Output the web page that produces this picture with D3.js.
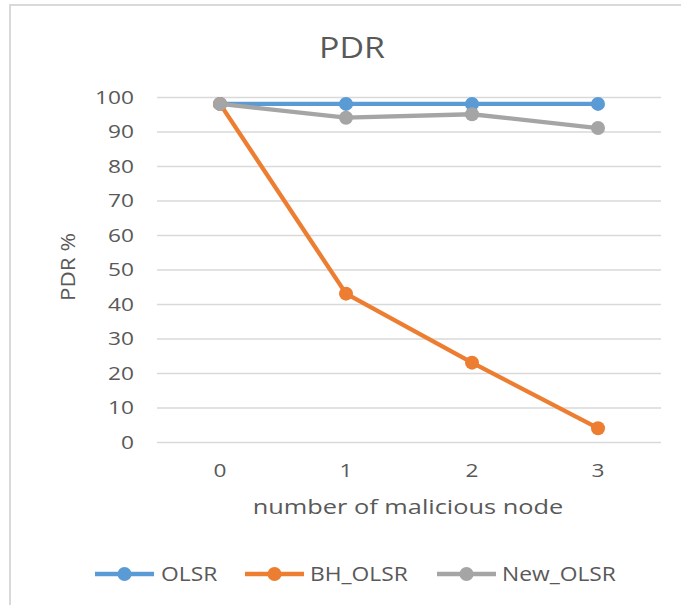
<!DOCTYPE html>
<html>
<head>
<meta charset="utf-8">
<script src="https://cdn.jsdelivr.net/npm/d3@7"></script>
<style>
  html, body { margin: 0; padding: 0; background: #fff; }
  svg { display: block; }
  text { font-family: "Open Sans", "Noto Sans", sans-serif; fill: #595959; }
</style>
</head>
<body>
<svg id="chart" width="681" height="605"></svg>
<script>
const categories = ["0", "1", "2", "3"];
const olsr = [98, 98, 98, 98];
const bhOlsr = [98, 43, 23, 4];
const newOlsr = [98, 94, 95, 91];
const yTicks = [0, 10, 20, 30, 40, 50, 60, 70, 80, 90, 100];
const seriesNames = ["OLSR", "BH_OLSR", "New_OLSR"];
const seriesColors = ["#5B9BD5", "#ED7D31", "#A5A5A5"];

const series = [olsr, bhOlsr, newOlsr].map((values, i) => ({
  name: seriesNames[i], color: seriesColors[i], values
}));

// widen text horizontally around its anchor point
function stretch(sel, sx) {
  sel.each(function () {
    const t = d3.select(this);
    const tx = +t.attr("x") || 0, ty = +t.attr("y") || 0;
    const prev = t.attr("transform") || "";
    t.attr("x", 0).attr("y", 0)
      .attr("transform", `${prev} translate(${tx},${ty}) scale(${sx},1)`);
  });
}

const svg = d3.select("#chart");

// chart frame
svg.append("path")
  .attr("d", "M10,605 L10,5 L681,5")
  .attr("fill", "none")
  .attr("stroke", "#D9D9D9")
  .attr("stroke-width", 2);

const plot = { left: 157, right: 661, top: 97, bottom: 442 };

const x = d3.scaleBand().domain(categories).range([plot.left, plot.right]);
const y = d3.scaleLinear().domain([0, 100]).range([plot.bottom, plot.top]);

// gridlines and value labels
const yAxis = d3.axisLeft(y).tickValues(yTicks)
  .tickSize(-(plot.right - plot.left)).tickPadding(23);
const gy = svg.append("g").attr("transform", `translate(${plot.left},0)`).call(yAxis);
gy.select(".domain").remove();
gy.selectAll(".tick line").attr("stroke", "#D9D9D9").attr("stroke-width", 1.3);
gy.selectAll(".tick text").attr("font-size", 18).attr("fill", "#595959")
  .attr("font-family", "Open Sans").attr("dy", "0.35em");
stretch(gy.selectAll(".tick text"), 1.26);

const xAxis = d3.axisBottom(x).tickSize(0).tickPadding(20);
const gx = svg.append("g").attr("transform", `translate(0,${plot.bottom})`).call(xAxis);
gx.select(".domain").remove();
gx.selectAll(".tick text").attr("font-size", 18).attr("fill", "#595959")
  .attr("font-family", "Open Sans").attr("y", 22).attr("dy", "0.71em");
stretch(gx.selectAll(".tick text"), 1.26);

// series lines and markers
const line = d3.line()
  .x((d, i) => x(categories[i]) + x.bandwidth() / 2)
  .y(d => y(d));

series.forEach(s => {
  const g = svg.append("g");
  g.append("path").datum(s.values)
    .attr("d", line)
    .attr("fill", "none")
    .attr("stroke", s.color)
    .attr("stroke-width", 4.3)
    .attr("stroke-linejoin", "round")
    .attr("stroke-linecap", "round");
  g.selectAll("circle").data(s.values).join("circle")
    .attr("cx", (d, i) => x(categories[i]) + x.bandwidth() / 2)
    .attr("cy", d => y(d))
    .attr("r", 7)
    .attr("fill", s.color);
});

// titles
stretch(svg.append("text").attr("x", 352).attr("y", 58)
  .attr("text-anchor", "middle").attr("font-size", 30).text("PDR"), 1.13);

stretch(svg.append("text").attr("x", 408).attr("y", 514)
  .attr("text-anchor", "middle").attr("font-size", 19.5).text("number of malicious node"), 1.3);

svg.append("text")
  .attr("transform", "translate(75,267) rotate(-90) scale(1.12,1)")
  .attr("text-anchor", "middle").attr("font-size", 20).text("PDR %");

// legend
const legendItems = [
  { x: 95, textX: 161 },
  { x: 245, textX: 310 },
  { x: 437, textX: 502 }
];
const legendY = 574;
series.forEach((s, i) => {
  const item = legendItems[i];
  const g = svg.append("g");
  g.append("line")
    .attr("x1", item.x).attr("x2", item.x + 59)
    .attr("y1", legendY).attr("y2", legendY)
    .attr("stroke", s.color).attr("stroke-width", 4.3);
  g.append("circle").attr("cx", item.x + 29.5).attr("cy", legendY)
    .attr("r", 7).attr("fill", s.color);
  stretch(g.append("text").attr("x", item.textX).attr("y", legendY + 7)
    .attr("font-size", 19.5).text(s.name), 1.17);
});
</script>
</body>
</html>
